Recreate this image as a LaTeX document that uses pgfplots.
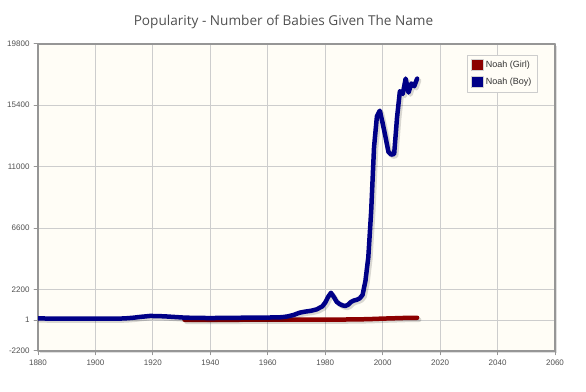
\documentclass[border=0pt]{standalone}
\usepackage{pgfplots}
\pgfplotsset{compat=1.18}
\usepackage{pgfplotstable}
\usepackage{fontspec}
\setmainfont{Liberation Sans}
\newfontfamily\titlefont{Open Sans}
\usetikzlibrary{shadows}
\definecolor{boyblue}{RGB}{0,0,135}
\definecolor{girlred}{RGB}{140,0,0}
\definecolor{cream}{RGB}{255,253,246}
\definecolor{framegray}{RGB}{150,150,150}
\definecolor{gridgray}{RGB}{205,205,205}
\definecolor{textgray}{RGB}{80,80,80}

\pgfplotstableread{
year val
1880 110
1885 105
1890 100
1895 95
1900 90
1905 95
1910 110
1913 160
1916 230
1919 290
1922 280
1925 250
1928 210
1931 170
1935 150
1940 140
1945 150
1950 160
1955 170
1960 175
1965 200
1967 260
1969 360
1971 520
1973 600
1975 660
1977 760
1979 980
1980 1250
1981 1650
1982 1950
1983 1650
1984 1300
1985 1150
1986 1050
1987 1000
1988 1100
1989 1300
1990 1400
1991 1450
1992 1550
1993 1800
1994 2800
1995 4500
1996 7800
1997 12400
1998 14600
1999 15000
2000 14100
2001 13100
2002 12050
2003 11850
2004 11900
2005 14500
2006 16400
2007 16200
2008 17300
2009 16300
2010 16950
2011 16750
2012 17300
}\boydata

\pgfplotstableread{
year val
1931 15
1940 15
1950 18
1960 20
1970 22
1980 25
1990 40
1995 60
2000 100
2005 130
2008 150
2010 160
2012 160
}\girldata

\begin{document}
\begin{tikzpicture}
\useasboundingbox (0,0) rectangle (586pt,391pt);
\begin{axis}[
  at={(38pt,40.3pt)}, anchor=south west,
  scale only axis, width=517pt, height=307pt,
  xmin=1880, xmax=2060, ymin=-2200, ymax=19800,
  scaled y ticks=false, scaled x ticks=false,
  xtick={1880,1900,...,2060},
  xticklabels={1880,1900,1920,1940,1960,1980,2000,2020,2040,2060},
  ytick={-2200,1,2200,6600,11000,15400,19800},
  yticklabels={-2200,1,2200,6600,11000,15400,19800},
  grid=major,
  major grid style={gridgray, line width=0.8pt},
  axis line style={framegray, line width=2.2pt},
  axis background/.style={fill=cream, drop shadow={shadow xshift=2pt, shadow yshift=-2pt, opacity=0.25}},
  tick align=outside, tick pos=left,
  major tick length=4pt,
  tick style={framegray, line width=0.8pt},
  ticklabel style={font=\fontsize{8}{9}\selectfont, text=textgray},
  xticklabel style={yshift=-2pt},
  yticklabel style={xshift=-1pt},
  title={Popularity - Number of Babies Given The Name},
  title style={font=\titlefont\fontsize{13.6}{15}\selectfont, text=textgray, at={(0.5,1)}, anchor=base, yshift=12.5pt, xshift=-13pt},
  legend style={at={(0.83,0.964)}, anchor=north west, draw=gridgray, fill=cream, line width=0.8pt,
    font=\fontsize{9}{10}\selectfont, text=black!80, row sep=5pt, inner xsep=3.5pt, inner ysep=4pt},
  legend cell align=left,
  line join=round, line cap=round,
]
\addlegendimage{legend image code/.code={\draw[fill=girlred, draw=gray!35, line width=0.9pt] (0pt,-5.5pt) rectangle (12pt,5.5pt);}}
\addlegendentry{Noah (Girl)}
\addlegendimage{legend image code/.code={\draw[fill=boyblue, draw=gray!35, line width=0.9pt] (0pt,-5.5pt) rectangle (12pt,5.5pt);}}
\addlegendentry{Noah (Boy)}
\addplot[black, opacity=0.15, line width=4.5pt, forget plot, xshift=2pt, yshift=-2pt] table[x=year,y=val] {\girldata};
\addplot[girlred, line width=4.5pt, forget plot] table[x=year,y=val] {\girldata};
\addplot[black, opacity=0.15, line width=4.5pt, forget plot, xshift=2pt, yshift=-2pt] table[x=year,y=val] {\boydata};
\addplot[boyblue, line width=4.5pt, forget plot] table[x=year,y=val] {\boydata};
\end{axis}
\end{tikzpicture}
\end{document}
